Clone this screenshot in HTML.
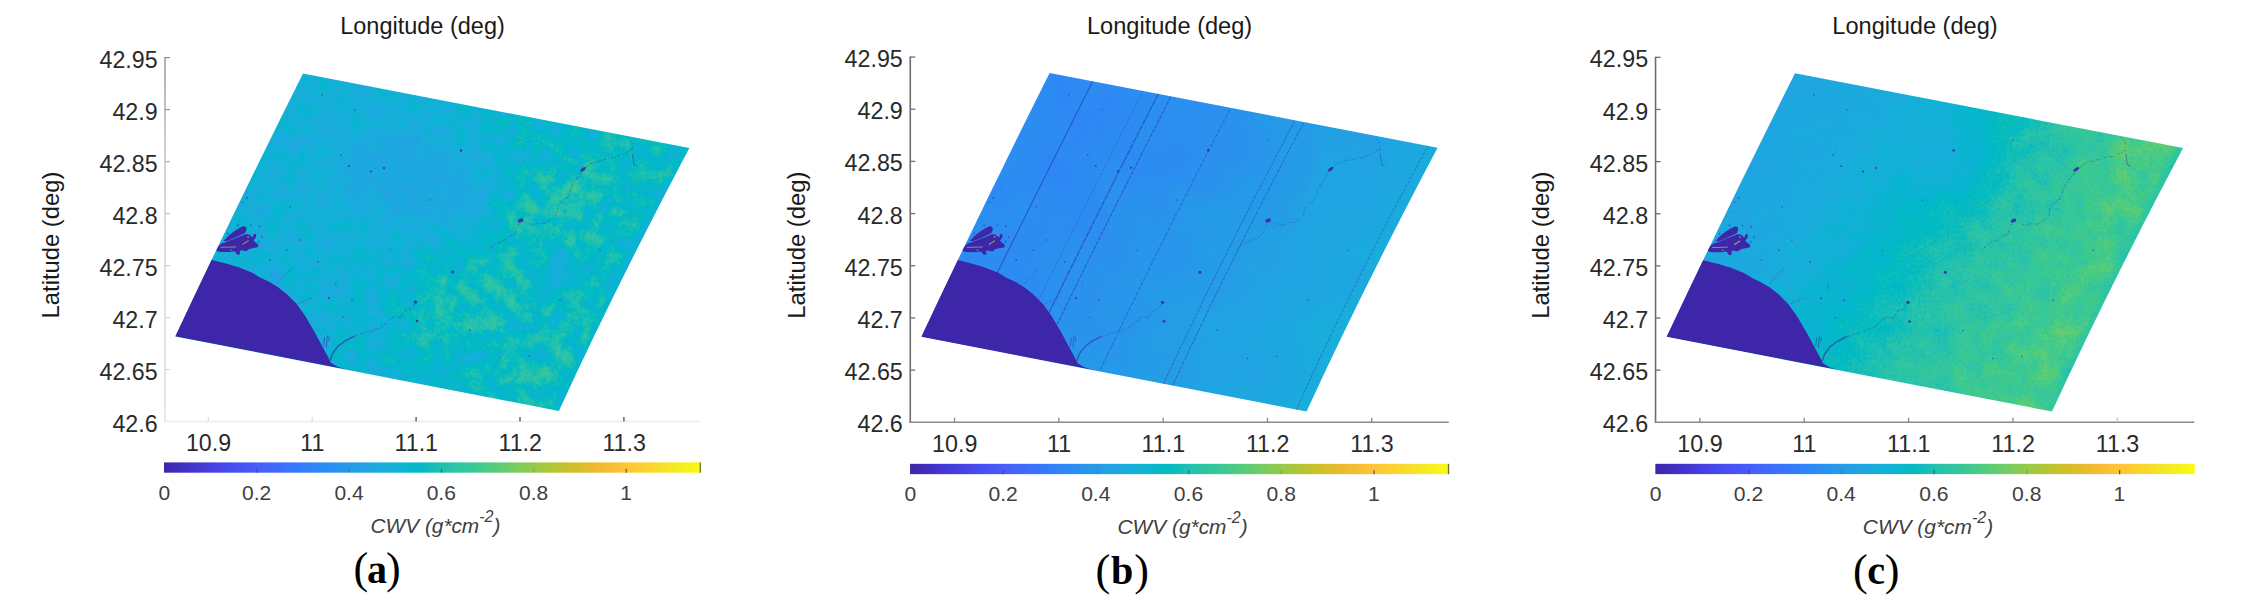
<!DOCTYPE html>
<html lang="en"><head><meta charset="utf-8"><title>CWV maps</title>
<style>
html,body{margin:0;padding:0;background:#fff;}
svg{display:block}
text{font-family:"Liberation Sans",sans-serif;fill:#262626}
.tk{font-size:23.2px;fill:#2a2a2a}
.lb{font-size:23.5px;fill:#1a1a1a}
.cb{font-size:21px;fill:#404040}
.cbl{font-size:20.8px;font-style:italic;fill:#404040}
.cap{font-family:"Liberation Serif",serif;font-size:40px;fill:#000}
</style></head><body>
<svg width="2260" height="606" viewBox="0 0 2260 606">
<defs>
<linearGradient id="parula" x1="0" y1="0" x2="1" y2="0"><stop offset="0.0000" stop-color="#3e26a8"/><stop offset="0.0476" stop-color="#4332cb"/><stop offset="0.0952" stop-color="#4741e5"/><stop offset="0.1429" stop-color="#4852f4"/><stop offset="0.1905" stop-color="#4563fd"/><stop offset="0.2381" stop-color="#3875fe"/><stop offset="0.2857" stop-color="#2e87f7"/><stop offset="0.3333" stop-color="#2797eb"/><stop offset="0.3810" stop-color="#20a5e3"/><stop offset="0.4286" stop-color="#12b1d6"/><stop offset="0.4762" stop-color="#02bac3"/><stop offset="0.5238" stop-color="#24c1ae"/><stop offset="0.5714" stop-color="#37c897"/><stop offset="0.6190" stop-color="#57cc7a"/><stop offset="0.6667" stop-color="#81cc59"/><stop offset="0.7143" stop-color="#abc739"/><stop offset="0.7619" stop-color="#d1bf27"/><stop offset="0.8095" stop-color="#f0ba33"/><stop offset="0.8571" stop-color="#fec338"/><stop offset="0.9048" stop-color="#fad62d"/><stop offset="0.9524" stop-color="#f5e924"/><stop offset="1.0000" stop-color="#f9fb15"/></linearGradient>
<linearGradient id="yaxg" x1="0" y1="0" x2="0" y2="1"><stop offset="0" stop-color="#9c9c9c"/><stop offset="0.25" stop-color="#c4c4c4"/><stop offset="0.5" stop-color="#d6d6d6"/><stop offset="1" stop-color="#e2e2e2"/></linearGradient>
<clipPath id="clipP"><path d="M303.0,73.5 L689.4,148.0 Q615.6,287.4 558.9,410.9 L175.3,336.4 Q235.6,208 303.0,73.5 Z"/></clipPath>
<filter id="b3" x="-50%" y="-50%" width="200%" height="200%"><feGaussianBlur stdDeviation="3"/></filter>
<filter id="b12" x="-50%" y="-50%" width="200%" height="200%"><feGaussianBlur stdDeviation="12"/></filter>
<filter id="b20" x="-50%" y="-50%" width="200%" height="200%"><feGaussianBlur stdDeviation="20"/></filter>
<linearGradient id="ga" gradientUnits="userSpaceOnUse" x1="230" y1="130" x2="640" y2="340"><stop offset="0" stop-color="#6b6b6b"/><stop offset="0.35" stop-color="#6d6d6d"/><stop offset="0.6" stop-color="#747474"/><stop offset="1" stop-color="#7c7c7c"/></linearGradient>
<linearGradient id="gb" gradientUnits="userSpaceOnUse" x1="275" y1="119" x2="646" y2="374"><stop offset="0" stop-color="#4c4c4c"/><stop offset="0.3" stop-color="#505050"/><stop offset="0.6" stop-color="#5d5d5d"/><stop offset="1" stop-color="#6e6e6e"/></linearGradient>
<linearGradient id="gc" gradientUnits="userSpaceOnUse" x1="275" y1="119" x2="646" y2="374"><stop offset="0" stop-color="#626262"/><stop offset="0.17" stop-color="#666666"/><stop offset="0.36" stop-color="#737373"/><stop offset="0.52" stop-color="#858585"/><stop offset="0.72" stop-color="#939393"/><stop offset="0.95" stop-color="#9d9d9d"/></linearGradient>
<filter id="pf0" x="150" y="50" width="570" height="380" filterUnits="userSpaceOnUse" color-interpolation-filters="sRGB">
<feTurbulence type="fractalNoise" baseFrequency="0.06" numOctaves="3" seed="3" result="n1"/>
<feColorMatrix in="n1" type="matrix" values="1 0 0 0 0  1 0 0 0 0  1 0 0 0 0  0 0 0 0 1" result="g1"/>
<feTurbulence type="fractalNoise" baseFrequency="0.3" numOctaves="2" seed="14" result="n2"/>
<feColorMatrix in="n2" type="matrix" values="0 1 0 0 0  0 1 0 0 0  0 1 0 0 0  0 0 0 0 1" result="g2"/>
<feComposite in="SourceGraphic" in2="g1" operator="arithmetic" k1="1.7" k2="0.15000000000000002" k3="-0.6205" k4="0.3102" result="v1"/>
<feComposite in="v1" in2="g2" operator="arithmetic" k1="0" k2="1" k3="0.09" k4="-0.045" result="v"/>
<feComponentTransfer in="v">
<feFuncR type="table" tableValues="0.2422 0.2504 0.2578 0.2647 0.2706 0.2751 0.2783 0.2803 0.2813 0.2810 0.2795 0.2760 0.2699 0.2602 0.2440 0.2206 0.1963 0.1834 0.1786 0.1764 0.1687 0.1540 0.1460 0.1380 0.1248 0.1113 0.0952 0.0689 0.0297 0.0036 0.0067 0.0433 0.0964 0.1408 0.1717 0.1938 0.2161 0.2470 0.2906 0.3406 0.3909 0.4456 0.5044 0.5616 0.6174 0.6720 0.7242 0.7738 0.8203 0.8634 0.9035 0.9393 0.9728 0.9956 0.9970 0.9952 0.9892 0.9786 0.9676 0.9610 0.9597 0.9628 0.9691 0.9769"/>
<feFuncG type="table" tableValues="0.1504 0.1650 0.1818 0.1978 0.2147 0.2342 0.2559 0.2782 0.3006 0.3228 0.3447 0.3667 0.3892 0.4123 0.4358 0.4603 0.4847 0.5074 0.5289 0.5499 0.5703 0.5902 0.6091 0.6276 0.6459 0.6635 0.6798 0.6948 0.7082 0.7203 0.7312 0.7411 0.7500 0.7584 0.7670 0.7758 0.7843 0.7918 0.7973 0.8008 0.8029 0.8024 0.7993 0.7942 0.7876 0.7793 0.7698 0.7598 0.7498 0.7406 0.7330 0.7288 0.7298 0.7434 0.7659 0.7893 0.8136 0.8386 0.8639 0.8890 0.9135 0.9373 0.9606 0.9839"/>
<feFuncB type="table" tableValues="0.6603 0.7076 0.7511 0.7952 0.8364 0.8710 0.8991 0.9221 0.9414 0.9579 0.9717 0.9829 0.9906 0.9952 0.9988 0.9973 0.9892 0.9798 0.9682 0.9520 0.9359 0.9218 0.9079 0.8973 0.8883 0.8763 0.8598 0.8394 0.8163 0.7917 0.7660 0.7394 0.7120 0.6842 0.6554 0.6251 0.5923 0.5567 0.5188 0.4789 0.4354 0.3909 0.3480 0.3045 0.2612 0.2227 0.1910 0.1646 0.1535 0.1596 0.1774 0.2010 0.2394 0.2371 0.2199 0.2028 0.1885 0.1766 0.1643 0.1537 0.1423 0.1265 0.1064 0.0805"/>
<feFuncA type="linear" slope="0" intercept="1"/>
</feComponentTransfer>
</filter>
<filter id="pf1" x="150" y="50" width="570" height="380" filterUnits="userSpaceOnUse" color-interpolation-filters="sRGB">
<feTurbulence type="fractalNoise" baseFrequency="0.02" numOctaves="2" seed="5" result="n1"/>
<feColorMatrix in="n1" type="matrix" values="1 0 0 0 0  1 0 0 0 0  1 0 0 0 0  0 0 0 0 1" result="g1"/>
<feTurbulence type="fractalNoise" baseFrequency="0.3" numOctaves="1" seed="16" result="n2"/>
<feColorMatrix in="n2" type="matrix" values="0 1 0 0 0  0 1 0 0 0  0 1 0 0 0  0 0 0 0 1" result="g2"/>
<feComposite in="SourceGraphic" in2="g1" operator="arithmetic" k1="0" k2="1" k3="0.0400" k4="-0.0200" result="v1"/>
<feComposite in="v1" in2="g2" operator="arithmetic" k1="0" k2="1" k3="0.015" k4="-0.0075" result="v"/>
<feComponentTransfer in="v">
<feFuncR type="table" tableValues="0.2422 0.2504 0.2578 0.2647 0.2706 0.2751 0.2783 0.2803 0.2813 0.2810 0.2795 0.2760 0.2699 0.2602 0.2440 0.2206 0.1963 0.1834 0.1786 0.1764 0.1687 0.1540 0.1460 0.1380 0.1248 0.1113 0.0952 0.0689 0.0297 0.0036 0.0067 0.0433 0.0964 0.1408 0.1717 0.1938 0.2161 0.2470 0.2906 0.3406 0.3909 0.4456 0.5044 0.5616 0.6174 0.6720 0.7242 0.7738 0.8203 0.8634 0.9035 0.9393 0.9728 0.9956 0.9970 0.9952 0.9892 0.9786 0.9676 0.9610 0.9597 0.9628 0.9691 0.9769"/>
<feFuncG type="table" tableValues="0.1504 0.1650 0.1818 0.1978 0.2147 0.2342 0.2559 0.2782 0.3006 0.3228 0.3447 0.3667 0.3892 0.4123 0.4358 0.4603 0.4847 0.5074 0.5289 0.5499 0.5703 0.5902 0.6091 0.6276 0.6459 0.6635 0.6798 0.6948 0.7082 0.7203 0.7312 0.7411 0.7500 0.7584 0.7670 0.7758 0.7843 0.7918 0.7973 0.8008 0.8029 0.8024 0.7993 0.7942 0.7876 0.7793 0.7698 0.7598 0.7498 0.7406 0.7330 0.7288 0.7298 0.7434 0.7659 0.7893 0.8136 0.8386 0.8639 0.8890 0.9135 0.9373 0.9606 0.9839"/>
<feFuncB type="table" tableValues="0.6603 0.7076 0.7511 0.7952 0.8364 0.8710 0.8991 0.9221 0.9414 0.9579 0.9717 0.9829 0.9906 0.9952 0.9988 0.9973 0.9892 0.9798 0.9682 0.9520 0.9359 0.9218 0.9079 0.8973 0.8883 0.8763 0.8598 0.8394 0.8163 0.7917 0.7660 0.7394 0.7120 0.6842 0.6554 0.6251 0.5923 0.5567 0.5188 0.4789 0.4354 0.3909 0.3480 0.3045 0.2612 0.2227 0.1910 0.1646 0.1535 0.1596 0.1774 0.2010 0.2394 0.2371 0.2199 0.2028 0.1885 0.1766 0.1643 0.1537 0.1423 0.1265 0.1064 0.0805"/>
<feFuncA type="linear" slope="0" intercept="1"/>
</feComponentTransfer>
</filter>
<filter id="pf2" x="150" y="50" width="570" height="380" filterUnits="userSpaceOnUse" color-interpolation-filters="sRGB">
<feTurbulence type="fractalNoise" baseFrequency="0.05" numOctaves="3" seed="8" result="n1"/>
<feColorMatrix in="n1" type="matrix" values="1 0 0 0 0  1 0 0 0 0  1 0 0 0 0  0 0 0 0 1" result="g1"/>
<feTurbulence type="fractalNoise" baseFrequency="0.35" numOctaves="2" seed="19" result="n2"/>
<feColorMatrix in="n2" type="matrix" values="0 1 0 0 0  0 1 0 0 0  0 1 0 0 0  0 0 0 0 1" result="g2"/>
<feComposite in="SourceGraphic" in2="g1" operator="arithmetic" k1="0.42" k2="0.79" k3="-0.1386" k4="0.0693" result="v1"/>
<feComposite in="v1" in2="g2" operator="arithmetic" k1="0" k2="1" k3="0.09" k4="-0.045" result="v"/>
<feComponentTransfer in="v">
<feFuncR type="table" tableValues="0.2422 0.2504 0.2578 0.2647 0.2706 0.2751 0.2783 0.2803 0.2813 0.2810 0.2795 0.2760 0.2699 0.2602 0.2440 0.2206 0.1963 0.1834 0.1786 0.1764 0.1687 0.1540 0.1460 0.1380 0.1248 0.1113 0.0952 0.0689 0.0297 0.0036 0.0067 0.0433 0.0964 0.1408 0.1717 0.1938 0.2161 0.2470 0.2906 0.3406 0.3909 0.4456 0.5044 0.5616 0.6174 0.6720 0.7242 0.7738 0.8203 0.8634 0.9035 0.9393 0.9728 0.9956 0.9970 0.9952 0.9892 0.9786 0.9676 0.9610 0.9597 0.9628 0.9691 0.9769"/>
<feFuncG type="table" tableValues="0.1504 0.1650 0.1818 0.1978 0.2147 0.2342 0.2559 0.2782 0.3006 0.3228 0.3447 0.3667 0.3892 0.4123 0.4358 0.4603 0.4847 0.5074 0.5289 0.5499 0.5703 0.5902 0.6091 0.6276 0.6459 0.6635 0.6798 0.6948 0.7082 0.7203 0.7312 0.7411 0.7500 0.7584 0.7670 0.7758 0.7843 0.7918 0.7973 0.8008 0.8029 0.8024 0.7993 0.7942 0.7876 0.7793 0.7698 0.7598 0.7498 0.7406 0.7330 0.7288 0.7298 0.7434 0.7659 0.7893 0.8136 0.8386 0.8639 0.8890 0.9135 0.9373 0.9606 0.9839"/>
<feFuncB type="table" tableValues="0.6603 0.7076 0.7511 0.7952 0.8364 0.8710 0.8991 0.9221 0.9414 0.9579 0.9717 0.9829 0.9906 0.9952 0.9988 0.9973 0.9892 0.9798 0.9682 0.9520 0.9359 0.9218 0.9079 0.8973 0.8883 0.8763 0.8598 0.8394 0.8163 0.7917 0.7660 0.7394 0.7120 0.6842 0.6554 0.6251 0.5923 0.5567 0.5188 0.4789 0.4354 0.3909 0.3480 0.3045 0.2612 0.2227 0.1910 0.1646 0.1535 0.1596 0.1774 0.2010 0.2394 0.2371 0.2199 0.2028 0.1885 0.1766 0.1643 0.1537 0.1423 0.1265 0.1064 0.0805"/>
<feFuncA type="linear" slope="0" intercept="1"/>
</feComponentTransfer>
</filter>
</defs>
<rect width="2260" height="606" fill="#fff"/>
<g transform="translate(0,0)">
<g clip-path="url(#clipP)"><g filter="url(#pf0)"><rect x="150" y="50" width="570" height="380" fill="url(#ga)"/><ellipse cx="415" cy="178" rx="85" ry="48" fill="#626262" fill-opacity="0.85" transform="rotate(20 415 178)" filter="url(#b20)"/><ellipse cx="560" cy="215" rx="70" ry="40" fill="#858585" fill-opacity="0.7" transform="rotate(-35 560 215)" filter="url(#b12)"/><ellipse cx="470" cy="300" rx="70" ry="35" fill="#858585" fill-opacity="0.7" transform="rotate(-20 470 300)" filter="url(#b12)"/><ellipse cx="590" cy="330" rx="50" ry="45" fill="#858585" fill-opacity="0.6" transform="rotate(-60 590 330)" filter="url(#b12)"/><ellipse cx="530" cy="380" rx="50" ry="20" fill="#878787" fill-opacity="0.6" transform="rotate(10 530 380)" filter="url(#b12)"/><ellipse cx="560" cy="270" rx="30" ry="25" fill="#696969" fill-opacity="0.7" transform="rotate(0 560 270)" filter="url(#b12)"/><path d="M689.4,148 Q615.6,287.4 558.9,410.9" stroke="#666666" stroke-width="11" stroke-opacity="0.6" fill="none" filter="url(#b3)"/></g><path d="M170,335.4 L204,258 L210.5,259.7 L226.0,263.5 L239.2,267.5 L252.3,272.8 L260.0,277.5 L269.1,281.8 L278.1,287.2 L287.2,294.5 L296.3,303.6 L305.4,316.3 L314.4,331.7 L321.7,345.3 L328.1,357.1 L330.5,362.5 L337.0,366.6 L345.3,369.2 Z" fill="#3e26a8"/><path d="M223.5,241.0 L228.5,235.8 L234.2,231.2 L239.4,228.0 L243.7,226.1 L246.2,227.2 L246.4,229.7 L245.2,232.7 L241.6,234.8 L236.7,237.1 L231.8,239.6 L227.2,241.2 Z M216.1,249.2 L218.6,245.9 L221.4,243.5 L227.2,241.2 L233.0,238.9 L238.8,236.6 L244.5,234.4 L247.4,234.1 L249.5,234.8 L251.5,236.6 L252.8,237.3 L253.6,234.8 L254.4,233.6 L256.2,234.8 L255.9,237.3 L253.6,240.6 L255.7,242.6 L257.7,243.9 L258.7,246.8 L256.1,247.6 L253.6,248.0 L248.7,249.2 L246.2,251.3 L242.9,250.6 L239.6,250.5 L240.0,253.8 L238.8,255.0 L236.7,254.2 L235.5,252.1 L234.6,251.3 L229.7,251.9 L224.7,252.1 L220.6,251.9 L216.9,251.3 Z" fill="#3e26a8"/><path d="M224,242.6 L243.7,234.6" stroke="#1fa8d4" stroke-width="0.8" stroke-opacity="0.7" fill="none"/><circle cx="237.9" cy="225.3" r="0.8" fill="#3e26a8" fill-opacity="0.8"/><circle cx="250.7" cy="225.3" r="0.8" fill="#3e26a8" fill-opacity="0.8"/><circle cx="259.4" cy="226.5" r="0.8" fill="#3e26a8" fill-opacity="0.8"/><circle cx="259" cy="241.8" r="0.8" fill="#3e26a8" fill-opacity="0.8"/><circle cx="269.7" cy="260" r="0.8" fill="#3e26a8" fill-opacity="0.8"/><circle cx="228" cy="233.5" r="0.8" fill="#3e26a8" fill-opacity="0.8"/><circle cx="262" cy="237" r="0.8" fill="#3e26a8" fill-opacity="0.8"/><circle cx="248.2" cy="236.9" r="0.9" fill="#e8a040" fill-opacity="0.8"/><circle cx="231" cy="250" r="0.8" fill="#60c890" fill-opacity="0.8"/><path d="M220.6,247.3 L236.3,246.9" stroke="#7fcf70" stroke-width="0.9" stroke-opacity="0.8" fill="none"/><path d="M242.5,244.5 L248.5,240.5" stroke="#b8d040" stroke-width="1" stroke-opacity="0.8" fill="none"/><path d="M329.9,361.0 L332.6,353.5 L338.0,346.2 L345.3,340.8 L354.4,336.2" stroke="#3a2f9e" stroke-width="1.4" stroke-opacity="0.7" fill="none" stroke-linejoin="round"/><path d="M354.4,336.2 L358.6,334.1 L363.4,333.2 L368.2,331.3 L372.5,330.8 L376.3,329.2 L380.0,328.0 L383.3,325.0 L388.0,322.0 L390.6,318.9 L394.6,316.0 L401.0,318.0 L402.3,313.8 L405.0,311.0 L411.0,309.0 L415.3,302.5" stroke="#3a2f9e" stroke-width="0.9" stroke-opacity="0.48999999999999994" stroke-dasharray="2.4 1.2 1 1.6 3.2 1.4" fill="none" stroke-linejoin="round"/><path d="M488.9,250.3 L494.2,244.4 L499.2,242.8 L504.6,239.9 L509.0,236.4 L515.0,234.0 L517.0,230.6 L518.6,225.1 L520.1,221.0 L525.3,221.5 L529.3,223.3 L532.8,225.1 L537.1,223.3 L542.4,223.7 L547.7,222.1 L551.5,218.6 L556.6,214.7 L557.6,210.0 L558.1,205.8 L561.7,202.0 L564.2,199.3 L568.5,196.9 L570.3,191.6 L571.4,186.5 L573.9,182.5 L577.0,177.8 L580.5,174.5 L582.7,170.0 L586.9,166.5 L592.2,162.7 L596.2,162.5 L600.6,160.3 L604.1,159.8 L609.0,158.0 L611.9,158.3 L616.0,156.8 L619.8,155.3 L624.9,153.8 L627.7,151.9 L632.3,149.4 L632.3,143.4 L627.8,137.5" stroke="#3a2f9e" stroke-width="0.9" stroke-opacity="0.48999999999999994" stroke-dasharray="1.6 1.4 3 1.8 1 2.2 2.4 1.2" fill="none" stroke-linejoin="round"/><path d="M632.3,153.8 L633.8,164.2 L636.7,166.6" stroke="#3a2f9e" stroke-width="1" stroke-opacity="0.48999999999999994" fill="none"/><path d="M277.5,283.5 L292,268 M298.5,303.5 L314,297 M335,282.5 L337,290" stroke="#3a2f9e" stroke-width="0.9" stroke-opacity="0.42" stroke-dasharray="2.5 1.5" fill="none"/><path d="M323.6,346 L324.6,337 M326.2,347.5 L327.4,335.5 M328.6,341 L329.3,336.5" stroke="#3a2f9e" stroke-width="1" stroke-opacity="0.5599999999999999" fill="none"/><ellipse cx="520.6" cy="220.4" rx="2.9" ry="1.7" transform="rotate(-25 520.6 220.4)" fill="#3e26a8" fill-opacity="0.92"/><ellipse cx="583" cy="169.4" rx="3.2" ry="1.4" transform="rotate(-38 583 169.4)" fill="#3e26a8" fill-opacity="0.92"/><circle cx="415.5" cy="302" r="1.6" fill="#3e26a8" fill-opacity="0.92"/><circle cx="452.7" cy="272" r="1.5" fill="#3e26a8" fill-opacity="0.92"/><circle cx="417" cy="321" r="1.3" fill="#3e26a8" fill-opacity="0.92"/><circle cx="461" cy="150.5" r="1.2" fill="#3e26a8" fill-opacity="0.92"/><circle cx="384" cy="168" r="1.0" fill="#3e26a8" fill-opacity="0.92"/><circle cx="371" cy="171.5" r="1.0" fill="#3e26a8" fill-opacity="0.92"/><circle cx="349" cy="166" r="0.9" fill="#3e26a8" fill-opacity="0.92"/><circle cx="329" cy="298" r="0.9" fill="#3e26a8" fill-opacity="0.92"/><circle cx="322" cy="95" r="0.8" fill="#3e26a8" fill-opacity="0.75"/><circle cx="355" cy="110" r="0.7" fill="#3e26a8" fill-opacity="0.75"/><circle cx="341" cy="155" r="0.8" fill="#3e26a8" fill-opacity="0.75"/><circle cx="287" cy="250" r="0.8" fill="#3e26a8" fill-opacity="0.75"/><circle cx="300" cy="240" r="0.7" fill="#3e26a8" fill-opacity="0.75"/><circle cx="318" cy="262" r="0.8" fill="#3e26a8" fill-opacity="0.75"/><circle cx="290" cy="207" r="0.7" fill="#3e26a8" fill-opacity="0.75"/><circle cx="247" cy="198" r="0.9" fill="#3e26a8" fill-opacity="0.75"/><circle cx="243" cy="202" r="0.7" fill="#3e26a8" fill-opacity="0.75"/><circle cx="560" cy="300" r="0.8" fill="#3e26a8" fill-opacity="0.75"/><circle cx="500" cy="358" r="0.7" fill="#3e26a8" fill-opacity="0.75"/><circle cx="470" cy="330" r="0.8" fill="#3e26a8" fill-opacity="0.75"/><circle cx="529" cy="356" r="0.7" fill="#3e26a8" fill-opacity="0.75"/><circle cx="600" cy="250" r="0.7" fill="#3e26a8" fill-opacity="0.75"/><circle cx="430" cy="200" r="0.7" fill="#3e26a8" fill-opacity="0.75"/><circle cx="390" cy="250" r="0.6" fill="#3e26a8" fill-opacity="0.75"/><circle cx="520" cy="140" r="0.6" fill="#3e26a8" fill-opacity="0.75"/><circle cx="352" cy="300" r="0.8" fill="#3e26a8" fill-opacity="0.75"/><circle cx="343" cy="317" r="0.7" fill="#3e26a8" fill-opacity="0.75"/></g>
<rect x="164.2" y="57.0" width="1.6" height="365.2" fill="url(#yaxg)"/>
<path d="M164.2,421.6 H700.6" stroke="#ececec" stroke-width="1.5" fill="none"/>
<path d="M165,57.6 h5" stroke="#8c8c8c" stroke-width="1.3"/>
<path d="M165,109.6 h5" stroke="#9a9a9a" stroke-width="1.3"/>
<path d="M165,161.6 h5" stroke="#b4b4b4" stroke-width="1.3"/>
<path d="M165,213.6 h5" stroke="#c8c8c8" stroke-width="1.3"/>
<path d="M165,265.6 h5" stroke="#d2d2d2" stroke-width="1.3"/>
<path d="M165,317.6 h5" stroke="#d6d6d6" stroke-width="1.3"/>
<path d="M165,369.6 h5" stroke="#d8d8d8" stroke-width="1.3"/>
<path d="M208.3,421.6 v-4.6" stroke="#dcdcdc" stroke-width="1.3"/>
<path d="M312.2,421.6 v-4.6" stroke="#dcdcdc" stroke-width="1.3"/>
<path d="M416.1,421.6 v-4.6" stroke="#505050" stroke-width="1.3"/>
<path d="M520.0,421.6 v-4.6" stroke="#505050" stroke-width="1.3"/>
<path d="M623.9,421.6 v-4.6" stroke="#505050" stroke-width="1.3"/>
<text x="157.6" y="67.6" text-anchor="end" class="tk">42.95</text>
<text x="157.6" y="119.6" text-anchor="end" class="tk">42.9</text>
<text x="157.6" y="171.6" text-anchor="end" class="tk">42.85</text>
<text x="157.6" y="223.6" text-anchor="end" class="tk">42.8</text>
<text x="157.6" y="275.6" text-anchor="end" class="tk">42.75</text>
<text x="157.6" y="327.6" text-anchor="end" class="tk">42.7</text>
<text x="157.6" y="379.6" text-anchor="end" class="tk">42.65</text>
<text x="157.6" y="431.6" text-anchor="end" class="tk">42.6</text>
<text x="208.5" y="450.8" text-anchor="middle" class="tk">10.9</text>
<text x="312.4" y="450.8" text-anchor="middle" class="tk">11</text>
<text x="416.3" y="450.8" text-anchor="middle" class="tk">11.1</text>
<text x="520.2" y="450.8" text-anchor="middle" class="tk">11.2</text>
<text x="624.1" y="450.8" text-anchor="middle" class="tk">11.3</text>
<text x="422.5" y="34.2" text-anchor="middle" class="lb">Longitude (deg)</text>
<text transform="translate(59.4,245.0) rotate(-90)" text-anchor="middle" class="lb" style="font-size:23.8px">Latitude (deg)</text>
<rect x="164" y="462.4" width="537" height="10.3" fill="url(#parula)"/>
<text x="164.3" y="500.3" text-anchor="middle" class="cb">0</text>
<path d="M256.9,472.7 v-4" stroke="#333" stroke-opacity="0.5" stroke-width="1.2"/>
<text x="256.7" y="500.3" text-anchor="middle" class="cb">0.2</text>
<path d="M349.2,472.7 v-4" stroke="#333" stroke-opacity="0.2" stroke-width="1.2"/>
<text x="349.0" y="500.3" text-anchor="middle" class="cb">0.4</text>
<path d="M441.5,472.7 v-4" stroke="#333" stroke-opacity="0.55" stroke-width="1.2"/>
<text x="441.3" y="500.3" text-anchor="middle" class="cb">0.6</text>
<path d="M533.9,472.7 v-4" stroke="#333" stroke-opacity="0.2" stroke-width="1.2"/>
<text x="533.7" y="500.3" text-anchor="middle" class="cb">0.8</text>
<path d="M626.2,472.7 v-4" stroke="#333" stroke-opacity="0.75" stroke-width="1.2"/>
<text x="626.0" y="500.3" text-anchor="middle" class="cb">1</text>
<path d="M700.3,462.4 v10.3" stroke="#333" stroke-opacity="0.7" stroke-width="1.3"/>
<text x="370.6" y="532.6" class="cbl">CWV (g*cm<tspan dy="-10.5" font-size="16">-2</tspan><tspan dy="10.5">)</tspan></text>
<text x="353.4" y="583.4" class="cap"><tspan font-size="44">(</tspan><tspan font-weight="bold" dy="-0.7" dx="-1">a</tspan><tspan font-size="44" dy="0.7" dx="-1">)</tspan></text>
</g>
<g transform="translate(745.4,-0.75) scale(1.004,1.0034)">
<g clip-path="url(#clipP)"><g filter="url(#pf1)"><rect x="150" y="50" width="570" height="380" fill="url(#gb)"/><ellipse cx="330" cy="130" rx="70" ry="40" fill="#494949" fill-opacity="0.7" transform="rotate(-60 330 130)" filter="url(#b20)"/><ellipse cx="470" cy="150" rx="60" ry="30" fill="#4c4c4c" fill-opacity="0.6" transform="rotate(20 470 150)" filter="url(#b20)"/></g><path d="M346.0,81.4 Q273.3,226.4 202.4,371.4" stroke="#2a3fb8" stroke-width="1.0" stroke-opacity="0.75" fill="none"/><path d="M396.5,90.6 Q322.7,235.6 252.9,380.6" stroke="#2a3fb8" stroke-width="0.8" stroke-opacity="0.5" fill="none" stroke-dasharray="2.5 1.5"/><path d="M411.3,94.2 Q337.2,239.2 267.8,384.2" stroke="#2a3fb8" stroke-width="1.1" stroke-opacity="0.8" fill="none" stroke-dasharray="6 1"/><path d="M423.8,97.1 Q349.4,242.1 280.2,387.1" stroke="#2a3fb8" stroke-width="1.0" stroke-opacity="0.7" fill="none" stroke-dasharray="4 1.2"/><path d="M482.6,109.9 Q407.0,254.9 339.1,399.9" stroke="#2a3fb8" stroke-width="0.9" stroke-opacity="0.65" fill="none" stroke-dasharray="4 1.5"/><path d="M547.0,121.5 Q470.0,266.5 403.4,411.5" stroke="#2a3fb8" stroke-width="0.9" stroke-opacity="0.65" fill="none" stroke-dasharray="3 1.2"/><path d="M556.0,123.3 Q478.8,268.3 412.4,413.3" stroke="#2a3fb8" stroke-width="0.9" stroke-opacity="0.65" fill="none" stroke-dasharray="4 1.2"/><path d="M680.5,145.2 Q600.7,290.2 537.0,435.2" stroke="#2a3fb8" stroke-width="0.9" stroke-opacity="0.6" fill="none" stroke-dasharray="3 1.5"/><path d="M170,335.4 L204,258 L210.5,259.7 L226.0,263.5 L239.2,267.5 L252.3,272.8 L260.0,277.5 L269.1,281.8 L278.1,287.2 L287.2,294.5 L296.3,303.6 L305.4,316.3 L314.4,331.7 L321.7,345.3 L328.1,357.1 L330.5,362.5 L337.0,366.6 L345.3,369.2 Z" fill="#3e26a8"/><path d="M223.5,241.0 L228.5,235.8 L234.2,231.2 L239.4,228.0 L243.7,226.1 L246.2,227.2 L246.4,229.7 L245.2,232.7 L241.6,234.8 L236.7,237.1 L231.8,239.6 L227.2,241.2 Z M216.1,249.2 L218.6,245.9 L221.4,243.5 L227.2,241.2 L233.0,238.9 L238.8,236.6 L244.5,234.4 L247.4,234.1 L249.5,234.8 L251.5,236.6 L252.8,237.3 L253.6,234.8 L254.4,233.6 L256.2,234.8 L255.9,237.3 L253.6,240.6 L255.7,242.6 L257.7,243.9 L258.7,246.8 L256.1,247.6 L253.6,248.0 L248.7,249.2 L246.2,251.3 L242.9,250.6 L239.6,250.5 L240.0,253.8 L238.8,255.0 L236.7,254.2 L235.5,252.1 L234.6,251.3 L229.7,251.9 L224.7,252.1 L220.6,251.9 L216.9,251.3 Z" fill="#3e26a8"/><path d="M224,242.6 L243.7,234.6" stroke="#1fa8d4" stroke-width="0.8" stroke-opacity="0.7" fill="none"/><circle cx="237.9" cy="225.3" r="0.8" fill="#3e26a8" fill-opacity="0.8"/><circle cx="250.7" cy="225.3" r="0.8" fill="#3e26a8" fill-opacity="0.8"/><circle cx="259.4" cy="226.5" r="0.8" fill="#3e26a8" fill-opacity="0.8"/><circle cx="259" cy="241.8" r="0.8" fill="#3e26a8" fill-opacity="0.8"/><circle cx="269.7" cy="260" r="0.8" fill="#3e26a8" fill-opacity="0.8"/><circle cx="228" cy="233.5" r="0.8" fill="#3e26a8" fill-opacity="0.8"/><circle cx="262" cy="237" r="0.8" fill="#3e26a8" fill-opacity="0.8"/><circle cx="248.2" cy="236.9" r="0.9" fill="#e8a040" fill-opacity="0.8"/><circle cx="231" cy="250" r="0.8" fill="#60c890" fill-opacity="0.8"/><path d="M220.6,247.3 L236.3,246.9" stroke="#7fcf70" stroke-width="0.9" stroke-opacity="0.8" fill="none"/><path d="M242.5,244.5 L248.5,240.5" stroke="#b8d040" stroke-width="1" stroke-opacity="0.8" fill="none"/><path d="M329.9,361.0 L332.6,353.5 L338.0,346.2 L345.3,340.8 L354.4,336.2" stroke="#3a2f9e" stroke-width="1.4" stroke-opacity="0.6" fill="none" stroke-linejoin="round"/><path d="M354.4,336.2 L359.3,334.8 L363.4,333.2 L368.6,331.7 L372.5,330.8 L376.6,329.6 L380.0,328.0 L384.1,324.9 L388.0,322.0 L391.8,319.7 L394.6,316.0 L401.0,318.0 L403.0,314.8 L405.0,311.0 L411.0,309.0 L415.3,302.5" stroke="#3a2f9e" stroke-width="0.9" stroke-opacity="0.42" stroke-dasharray="2.4 1.2 1 1.6 3.2 1.4" fill="none" stroke-linejoin="round"/><path d="M488.9,250.3 L494.2,244.4 L498.5,242.6 L504.6,239.9 L510.1,237.9 L515.0,234.0 L517.3,229.2 L518.2,225.7 L520.1,221.0 L523.4,222.3 L527.9,223.0 L532.8,225.1 L536.9,224.6 L542.0,222.6 L547.7,222.1 L551.9,219.1 L556.6,214.7 L556.5,210.1 L558.1,205.8 L561.7,203.6 L565.7,200.6 L568.5,196.9 L569.5,191.5 L571.4,186.5 L573.9,183.1 L578.0,177.6 L579.2,173.6 L582.7,170.0 L586.9,166.3 L592.2,162.7 L596.3,161.3 L599.1,160.6 L604.1,159.8 L607.8,158.9 L612.9,158.2 L616.0,156.8 L620.5,155.5 L624.9,153.8 L629.0,150.7 L632.3,149.4 L632.3,143.4 L627.8,137.5" stroke="#3a2f9e" stroke-width="0.9" stroke-opacity="0.42" stroke-dasharray="1.6 1.4 3 1.8 1 2.2 2.4 1.2" fill="none" stroke-linejoin="round"/><path d="M632.3,153.8 L633.8,164.2 L636.7,166.6" stroke="#3a2f9e" stroke-width="1" stroke-opacity="0.42" fill="none"/><path d="M277.5,283.5 L292,268 M298.5,303.5 L314,297 M335,282.5 L337,290" stroke="#3a2f9e" stroke-width="0.9" stroke-opacity="0.36" stroke-dasharray="2.5 1.5" fill="none"/><path d="M323.6,346 L324.6,337 M326.2,347.5 L327.4,335.5 M328.6,341 L329.3,336.5" stroke="#3a2f9e" stroke-width="1" stroke-opacity="0.48" fill="none"/><ellipse cx="520.6" cy="220.4" rx="2.9" ry="1.7" transform="rotate(-25 520.6 220.4)" fill="#3e26a8" fill-opacity="0.92"/><ellipse cx="583" cy="169.4" rx="3.2" ry="1.4" transform="rotate(-38 583 169.4)" fill="#3e26a8" fill-opacity="0.92"/><circle cx="415.5" cy="302" r="1.6" fill="#3e26a8" fill-opacity="0.92"/><circle cx="452.7" cy="272" r="1.5" fill="#3e26a8" fill-opacity="0.92"/><circle cx="417" cy="321" r="1.3" fill="#3e26a8" fill-opacity="0.92"/><circle cx="461" cy="150.5" r="1.2" fill="#3e26a8" fill-opacity="0.92"/><circle cx="384" cy="168" r="1.0" fill="#3e26a8" fill-opacity="0.92"/><circle cx="371" cy="171.5" r="1.0" fill="#3e26a8" fill-opacity="0.92"/><circle cx="349" cy="166" r="0.9" fill="#3e26a8" fill-opacity="0.92"/><circle cx="329" cy="298" r="0.9" fill="#3e26a8" fill-opacity="0.92"/><circle cx="322" cy="95" r="0.8" fill="#3e26a8" fill-opacity="0.75"/><circle cx="355" cy="110" r="0.7" fill="#3e26a8" fill-opacity="0.75"/><circle cx="341" cy="155" r="0.8" fill="#3e26a8" fill-opacity="0.75"/><circle cx="287" cy="250" r="0.8" fill="#3e26a8" fill-opacity="0.75"/><circle cx="300" cy="240" r="0.7" fill="#3e26a8" fill-opacity="0.75"/><circle cx="318" cy="262" r="0.8" fill="#3e26a8" fill-opacity="0.75"/><circle cx="290" cy="207" r="0.7" fill="#3e26a8" fill-opacity="0.75"/><circle cx="247" cy="198" r="0.9" fill="#3e26a8" fill-opacity="0.75"/><circle cx="243" cy="202" r="0.7" fill="#3e26a8" fill-opacity="0.75"/><circle cx="560" cy="300" r="0.8" fill="#3e26a8" fill-opacity="0.75"/><circle cx="500" cy="358" r="0.7" fill="#3e26a8" fill-opacity="0.75"/><circle cx="470" cy="330" r="0.8" fill="#3e26a8" fill-opacity="0.75"/><circle cx="529" cy="356" r="0.7" fill="#3e26a8" fill-opacity="0.75"/><circle cx="600" cy="250" r="0.7" fill="#3e26a8" fill-opacity="0.75"/><circle cx="430" cy="200" r="0.7" fill="#3e26a8" fill-opacity="0.75"/><circle cx="390" cy="250" r="0.6" fill="#3e26a8" fill-opacity="0.75"/><circle cx="520" cy="140" r="0.6" fill="#3e26a8" fill-opacity="0.75"/><circle cx="352" cy="300" r="0.8" fill="#3e26a8" fill-opacity="0.75"/><circle cx="343" cy="317" r="0.7" fill="#3e26a8" fill-opacity="0.75"/></g>
<rect x="163.39999999999998" y="57.0" width="1.6" height="365.2" fill="#6e6e6e"/>
<path d="M163.39999999999998,421.6 H700.6" stroke="#8a8a8a" stroke-width="1.5" fill="none"/>
<path d="M164.2,57.6 h5" stroke="#6e6e6e" stroke-width="1.3"/>
<path d="M164.2,109.6 h5" stroke="#6e6e6e" stroke-width="1.3"/>
<path d="M164.2,161.6 h5" stroke="#6e6e6e" stroke-width="1.3"/>
<path d="M164.2,213.6 h5" stroke="#6e6e6e" stroke-width="1.3"/>
<path d="M164.2,265.6 h5" stroke="#6e6e6e" stroke-width="1.3"/>
<path d="M164.2,317.6 h5" stroke="#6e6e6e" stroke-width="1.3"/>
<path d="M164.2,369.6 h5" stroke="#6e6e6e" stroke-width="1.3"/>
<path d="M208.3,421.6 v-4.6" stroke="#8a8a8a" stroke-width="1.3"/>
<path d="M312.2,421.6 v-4.6" stroke="#8a8a8a" stroke-width="1.3"/>
<path d="M416.1,421.6 v-4.6" stroke="#8a8a8a" stroke-width="1.3"/>
<path d="M520.0,421.6 v-4.6" stroke="#8a8a8a" stroke-width="1.3"/>
<path d="M623.9,421.6 v-4.6" stroke="#8a8a8a" stroke-width="1.3"/>
<text x="156.8" y="67.6" text-anchor="end" class="tk">42.95</text>
<text x="156.8" y="119.6" text-anchor="end" class="tk">42.9</text>
<text x="156.8" y="171.6" text-anchor="end" class="tk">42.85</text>
<text x="156.8" y="223.6" text-anchor="end" class="tk">42.8</text>
<text x="156.8" y="275.6" text-anchor="end" class="tk">42.75</text>
<text x="156.8" y="327.6" text-anchor="end" class="tk">42.7</text>
<text x="156.8" y="379.6" text-anchor="end" class="tk">42.65</text>
<text x="156.8" y="431.6" text-anchor="end" class="tk">42.6</text>
<text x="208.5" y="450.8" text-anchor="middle" class="tk">10.9</text>
<text x="312.4" y="450.8" text-anchor="middle" class="tk">11</text>
<text x="416.3" y="450.8" text-anchor="middle" class="tk">11.1</text>
<text x="520.2" y="450.8" text-anchor="middle" class="tk">11.2</text>
<text x="624.1" y="450.8" text-anchor="middle" class="tk">11.3</text>
<text x="422.5" y="34.2" text-anchor="middle" class="lb">Longitude (deg)</text>
<text transform="translate(59.4,245.0) rotate(-90)" text-anchor="middle" class="lb" style="font-size:23.8px">Latitude (deg)</text>
<rect x="164" y="463.0" width="537" height="10.3" fill="url(#parula)"/>
<text x="164.3" y="500.3" text-anchor="middle" class="cb">0</text>
<path d="M256.9,473.3 v-4" stroke="#333" stroke-opacity="0.5" stroke-width="1.2"/>
<text x="256.7" y="500.3" text-anchor="middle" class="cb">0.2</text>
<path d="M349.2,473.3 v-4" stroke="#333" stroke-opacity="0.2" stroke-width="1.2"/>
<text x="349.0" y="500.3" text-anchor="middle" class="cb">0.4</text>
<path d="M441.5,473.3 v-4" stroke="#333" stroke-opacity="0.55" stroke-width="1.2"/>
<text x="441.3" y="500.3" text-anchor="middle" class="cb">0.6</text>
<path d="M533.9,473.3 v-4" stroke="#333" stroke-opacity="0.2" stroke-width="1.2"/>
<text x="533.7" y="500.3" text-anchor="middle" class="cb">0.8</text>
<path d="M626.2,473.3 v-4" stroke="#333" stroke-opacity="0.75" stroke-width="1.2"/>
<text x="626.0" y="500.3" text-anchor="middle" class="cb">1</text>
<path d="M700.3,463.0 v10.3" stroke="#333" stroke-opacity="0.7" stroke-width="1.3"/>
<text x="370.6" y="532.6" class="cbl">CWV (g*cm<tspan dy="-10.5" font-size="16">-2</tspan><tspan dy="10.5">)</tspan></text>
<text x="348.6" y="583.4" class="cap"><tspan font-size="44">(</tspan><tspan font-weight="bold" dy="-0.7" dx="0.9">b</tspan><tspan font-size="44" dy="0.7" dx="0.9">)</tspan></text>
</g>
<g transform="translate(1490.6,-0.4) scale(1.0045,1.0026)">
<g clip-path="url(#clipP)"><g filter="url(#pf2)"><rect x="150" y="50" width="570" height="380" fill="url(#gc)"/><ellipse cx="455" cy="160" rx="45" ry="30" fill="#626262" fill-opacity="0.7" transform="rotate(30 455 160)" filter="url(#b20)"/><ellipse cx="640" cy="170" rx="50" ry="40" fill="#9c9c9c" fill-opacity="0.6" transform="rotate(-60 640 170)" filter="url(#b20)"/><ellipse cx="575" cy="370" rx="50" ry="30" fill="#999999" fill-opacity="0.6" transform="rotate(-30 575 370)" filter="url(#b20)"/><path d="M689.4,148 Q615.6,287.4 558.9,410.9" stroke="#808080" stroke-width="11" stroke-opacity="0.6" fill="none" filter="url(#b3)"/></g><path d="M170,335.4 L204,258 L210.5,259.7 L226.0,263.5 L239.2,267.5 L252.3,272.8 L260.0,277.5 L269.1,281.8 L278.1,287.2 L287.2,294.5 L296.3,303.6 L305.4,316.3 L314.4,331.7 L321.7,345.3 L328.1,357.1 L330.5,362.5 L337.0,366.6 L345.3,369.2 Z" fill="#3e26a8"/><path d="M223.5,241.0 L228.5,235.8 L234.2,231.2 L239.4,228.0 L243.7,226.1 L246.2,227.2 L246.4,229.7 L245.2,232.7 L241.6,234.8 L236.7,237.1 L231.8,239.6 L227.2,241.2 Z M216.1,249.2 L218.6,245.9 L221.4,243.5 L227.2,241.2 L233.0,238.9 L238.8,236.6 L244.5,234.4 L247.4,234.1 L249.5,234.8 L251.5,236.6 L252.8,237.3 L253.6,234.8 L254.4,233.6 L256.2,234.8 L255.9,237.3 L253.6,240.6 L255.7,242.6 L257.7,243.9 L258.7,246.8 L256.1,247.6 L253.6,248.0 L248.7,249.2 L246.2,251.3 L242.9,250.6 L239.6,250.5 L240.0,253.8 L238.8,255.0 L236.7,254.2 L235.5,252.1 L234.6,251.3 L229.7,251.9 L224.7,252.1 L220.6,251.9 L216.9,251.3 Z" fill="#3e26a8"/><path d="M224,242.6 L243.7,234.6" stroke="#1fa8d4" stroke-width="0.8" stroke-opacity="0.7" fill="none"/><circle cx="237.9" cy="225.3" r="0.8" fill="#3e26a8" fill-opacity="0.8"/><circle cx="250.7" cy="225.3" r="0.8" fill="#3e26a8" fill-opacity="0.8"/><circle cx="259.4" cy="226.5" r="0.8" fill="#3e26a8" fill-opacity="0.8"/><circle cx="259" cy="241.8" r="0.8" fill="#3e26a8" fill-opacity="0.8"/><circle cx="269.7" cy="260" r="0.8" fill="#3e26a8" fill-opacity="0.8"/><circle cx="228" cy="233.5" r="0.8" fill="#3e26a8" fill-opacity="0.8"/><circle cx="262" cy="237" r="0.8" fill="#3e26a8" fill-opacity="0.8"/><circle cx="248.2" cy="236.9" r="0.9" fill="#e8a040" fill-opacity="0.8"/><circle cx="231" cy="250" r="0.8" fill="#60c890" fill-opacity="0.8"/><path d="M220.6,247.3 L236.3,246.9" stroke="#7fcf70" stroke-width="0.9" stroke-opacity="0.8" fill="none"/><path d="M242.5,244.5 L248.5,240.5" stroke="#b8d040" stroke-width="1" stroke-opacity="0.8" fill="none"/><path d="M329.9,361.0 L332.6,353.5 L338.0,346.2 L345.3,340.8 L354.4,336.2" stroke="#3a2f9e" stroke-width="1.4" stroke-opacity="0.7" fill="none" stroke-linejoin="round"/><path d="M354.4,336.2 L359.5,335.1 L363.4,333.2 L368.5,332.5 L372.5,330.8 L376.1,329.2 L380.0,328.0 L383.4,325.2 L388.0,322.0 L390.6,318.3 L394.6,316.0 L401.0,318.0 L402.5,314.0 L405.0,311.0 L411.0,309.0 L415.3,302.5" stroke="#3a2f9e" stroke-width="0.9" stroke-opacity="0.48999999999999994" stroke-dasharray="2.4 1.2 1 1.6 3.2 1.4" fill="none" stroke-linejoin="round"/><path d="M488.9,250.3 L494.2,244.4 L499.1,241.3 L504.6,239.9 L508.8,236.3 L515.0,234.0 L515.9,229.4 L517.5,226.1 L520.1,221.0 L524.6,221.7 L528.1,223.4 L532.8,225.1 L537.5,223.3 L543.4,224.1 L547.7,222.1 L552.1,218.4 L556.6,214.7 L556.5,209.5 L558.1,205.8 L561.3,202.4 L565.7,199.2 L568.5,196.9 L569.0,192.6 L571.4,186.5 L574.3,181.7 L577.1,177.3 L579.9,175.1 L582.7,170.0 L588.2,166.7 L592.2,162.7 L595.7,161.5 L599.5,161.3 L604.1,159.8 L608.1,159.4 L611.7,157.2 L616.0,156.8 L621.1,156.3 L624.9,153.8 L629.3,152.2 L632.3,149.4 L632.3,143.4 L627.8,137.5" stroke="#3a2f9e" stroke-width="0.9" stroke-opacity="0.48999999999999994" stroke-dasharray="1.6 1.4 3 1.8 1 2.2 2.4 1.2" fill="none" stroke-linejoin="round"/><path d="M632.3,153.8 L633.8,164.2 L636.7,166.6" stroke="#3a2f9e" stroke-width="1" stroke-opacity="0.48999999999999994" fill="none"/><path d="M277.5,283.5 L292,268 M298.5,303.5 L314,297 M335,282.5 L337,290" stroke="#3a2f9e" stroke-width="0.9" stroke-opacity="0.42" stroke-dasharray="2.5 1.5" fill="none"/><path d="M323.6,346 L324.6,337 M326.2,347.5 L327.4,335.5 M328.6,341 L329.3,336.5" stroke="#3a2f9e" stroke-width="1" stroke-opacity="0.5599999999999999" fill="none"/><ellipse cx="520.6" cy="220.4" rx="2.9" ry="1.7" transform="rotate(-25 520.6 220.4)" fill="#3e26a8" fill-opacity="0.92"/><ellipse cx="583" cy="169.4" rx="3.2" ry="1.4" transform="rotate(-38 583 169.4)" fill="#3e26a8" fill-opacity="0.92"/><circle cx="415.5" cy="302" r="1.6" fill="#3e26a8" fill-opacity="0.92"/><circle cx="452.7" cy="272" r="1.5" fill="#3e26a8" fill-opacity="0.92"/><circle cx="417" cy="321" r="1.3" fill="#3e26a8" fill-opacity="0.92"/><circle cx="461" cy="150.5" r="1.2" fill="#3e26a8" fill-opacity="0.92"/><circle cx="384" cy="168" r="1.0" fill="#3e26a8" fill-opacity="0.92"/><circle cx="371" cy="171.5" r="1.0" fill="#3e26a8" fill-opacity="0.92"/><circle cx="349" cy="166" r="0.9" fill="#3e26a8" fill-opacity="0.92"/><circle cx="329" cy="298" r="0.9" fill="#3e26a8" fill-opacity="0.92"/><circle cx="322" cy="95" r="0.8" fill="#3e26a8" fill-opacity="0.75"/><circle cx="355" cy="110" r="0.7" fill="#3e26a8" fill-opacity="0.75"/><circle cx="341" cy="155" r="0.8" fill="#3e26a8" fill-opacity="0.75"/><circle cx="287" cy="250" r="0.8" fill="#3e26a8" fill-opacity="0.75"/><circle cx="300" cy="240" r="0.7" fill="#3e26a8" fill-opacity="0.75"/><circle cx="318" cy="262" r="0.8" fill="#3e26a8" fill-opacity="0.75"/><circle cx="290" cy="207" r="0.7" fill="#3e26a8" fill-opacity="0.75"/><circle cx="247" cy="198" r="0.9" fill="#3e26a8" fill-opacity="0.75"/><circle cx="243" cy="202" r="0.7" fill="#3e26a8" fill-opacity="0.75"/><circle cx="560" cy="300" r="0.8" fill="#3e26a8" fill-opacity="0.75"/><circle cx="500" cy="358" r="0.7" fill="#3e26a8" fill-opacity="0.75"/><circle cx="470" cy="330" r="0.8" fill="#3e26a8" fill-opacity="0.75"/><circle cx="529" cy="356" r="0.7" fill="#3e26a8" fill-opacity="0.75"/><circle cx="600" cy="250" r="0.7" fill="#3e26a8" fill-opacity="0.75"/><circle cx="430" cy="200" r="0.7" fill="#3e26a8" fill-opacity="0.75"/><circle cx="390" cy="250" r="0.6" fill="#3e26a8" fill-opacity="0.75"/><circle cx="520" cy="140" r="0.6" fill="#3e26a8" fill-opacity="0.75"/><circle cx="352" cy="300" r="0.8" fill="#3e26a8" fill-opacity="0.75"/><circle cx="343" cy="317" r="0.7" fill="#3e26a8" fill-opacity="0.75"/></g>
<rect x="163.39999999999998" y="57.0" width="1.6" height="365.2" fill="#6e6e6e"/>
<path d="M163.39999999999998,421.6 H700.6" stroke="#8a8a8a" stroke-width="1.5" fill="none"/>
<path d="M164.2,57.6 h5" stroke="#6e6e6e" stroke-width="1.3"/>
<path d="M164.2,109.6 h5" stroke="#6e6e6e" stroke-width="1.3"/>
<path d="M164.2,161.6 h5" stroke="#6e6e6e" stroke-width="1.3"/>
<path d="M164.2,213.6 h5" stroke="#6e6e6e" stroke-width="1.3"/>
<path d="M164.2,265.6 h5" stroke="#6e6e6e" stroke-width="1.3"/>
<path d="M164.2,317.6 h5" stroke="#6e6e6e" stroke-width="1.3"/>
<path d="M164.2,369.6 h5" stroke="#6e6e6e" stroke-width="1.3"/>
<path d="M208.3,421.6 v-4.6" stroke="#8a8a8a" stroke-width="1.3"/>
<path d="M312.2,421.6 v-4.6" stroke="#8a8a8a" stroke-width="1.3"/>
<path d="M416.1,421.6 v-4.6" stroke="#8a8a8a" stroke-width="1.3"/>
<path d="M520.0,421.6 v-4.6" stroke="#8a8a8a" stroke-width="1.3"/>
<path d="M623.9,421.6 v-4.6" stroke="#c4c4c4" stroke-width="1.3"/>
<text x="156.8" y="67.6" text-anchor="end" class="tk">42.95</text>
<text x="156.8" y="119.6" text-anchor="end" class="tk">42.9</text>
<text x="156.8" y="171.6" text-anchor="end" class="tk">42.85</text>
<text x="156.8" y="223.6" text-anchor="end" class="tk">42.8</text>
<text x="156.8" y="275.6" text-anchor="end" class="tk">42.75</text>
<text x="156.8" y="327.6" text-anchor="end" class="tk">42.7</text>
<text x="156.8" y="379.6" text-anchor="end" class="tk">42.65</text>
<text x="156.8" y="431.6" text-anchor="end" class="tk">42.6</text>
<text x="208.5" y="450.8" text-anchor="middle" class="tk">10.9</text>
<text x="312.4" y="450.8" text-anchor="middle" class="tk">11</text>
<text x="416.3" y="450.8" text-anchor="middle" class="tk">11.1</text>
<text x="520.2" y="450.8" text-anchor="middle" class="tk">11.2</text>
<text x="624.1" y="450.8" text-anchor="middle" class="tk">11.3</text>
<text x="422.5" y="34.2" text-anchor="middle" class="lb">Longitude (deg)</text>
<text transform="translate(58.2,245.0) rotate(-90)" text-anchor="middle" class="lb" style="font-size:23.8px">Latitude (deg)</text>
<rect x="164" y="463.0" width="537" height="10.3" fill="url(#parula)"/>
<text x="164.3" y="500.3" text-anchor="middle" class="cb">0</text>
<path d="M256.9,473.3 v-4" stroke="#333" stroke-opacity="0.5" stroke-width="1.2"/>
<text x="256.7" y="500.3" text-anchor="middle" class="cb">0.2</text>
<path d="M349.2,473.3 v-4" stroke="#333" stroke-opacity="0.2" stroke-width="1.2"/>
<text x="349.0" y="500.3" text-anchor="middle" class="cb">0.4</text>
<path d="M441.5,473.3 v-4" stroke="#333" stroke-opacity="0.55" stroke-width="1.2"/>
<text x="441.3" y="500.3" text-anchor="middle" class="cb">0.6</text>
<path d="M533.9,473.3 v-4" stroke="#333" stroke-opacity="0.2" stroke-width="1.2"/>
<text x="533.7" y="500.3" text-anchor="middle" class="cb">0.8</text>
<path d="M626.2,473.3 v-4" stroke="#333" stroke-opacity="0.75" stroke-width="1.2"/>
<text x="626.0" y="500.3" text-anchor="middle" class="cb">1</text>
<text x="370.6" y="532.6" class="cbl">CWV (g*cm<tspan dy="-10.5" font-size="16">-2</tspan><tspan dy="10.5">)</tspan></text>
<text x="360.7" y="583.4" class="cap"><tspan font-size="44">(</tspan><tspan font-weight="bold" dy="-0.7" dx="-0.3">c</tspan><tspan font-size="44" dy="0.7" dx="-0.3">)</tspan></text>
</g>
</svg>
</body></html>
